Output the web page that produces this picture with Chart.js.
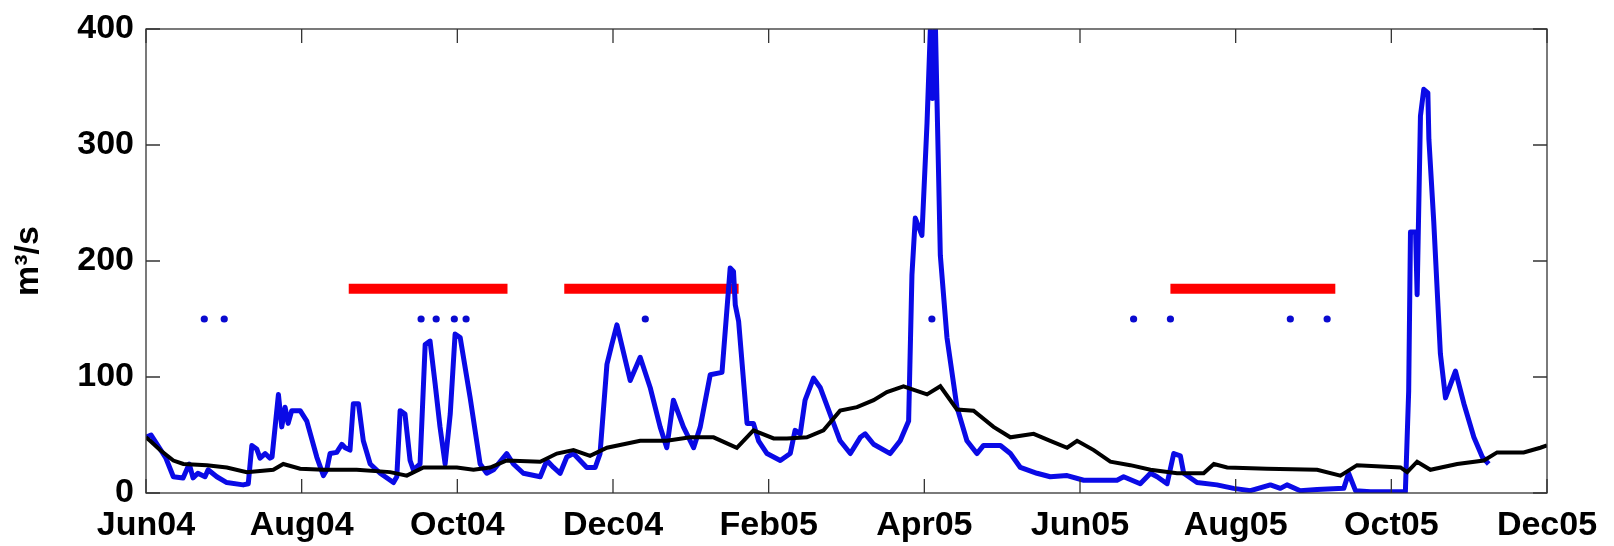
<!DOCTYPE html>
<html>
<head>
<meta charset="utf-8">
<title>Discharge</title>
<script src="https://cdn.jsdelivr.net/npm/chart.js@4.4.1/dist/chart.umd.min.js"></script>
<style>
    html, body { margin: 0; padding: 0; background: #fff; }
</style>
</head>
<body>
<canvas id="flowChart" width="1614" height="546"></canvas>
<script>
// x values are days counted from 1 Jun 2004, axis runs 0..548
var axisDays = 548;
var tickLabels = ["Jun04", "Aug04", "Oct04", "Dec04", "Feb05", "Apr05", "Jun05", "Aug05", "Oct05", "Dec05"];

// blue discharge line
var blueDays = [
    0, 2, 7.8, 10.7, 14.5, 16.9, 18.4, 20.3, 23.1, 24.3,
    27.7, 31.6, 38, 40, 41.4, 43.3, 44.6, 46.6, 48.5, 49.3,
    51.8, 53.1, 54.4, 55.6, 57, 60.3, 62.9, 66.8, 69.4, 70.7,
    72, 74.6, 76.6, 77.9, 79.8, 81.1, 83.1, 85, 87.7, 91.6,
    96.8, 98.1, 99.4, 101.3, 103.3, 104.6, 107.2, 109.2, 111.1, 113.1,
    115, 117, 119, 120.9, 122.9, 126.8, 130.7, 133.3, 135.9, 141.1,
    143.7, 147.6, 154.2, 156.8, 159.4, 162, 164.6, 167.2, 169.8, 172.4,
    175.7, 177.6, 180.3, 182.2, 184.2, 189.4, 193.3, 197.2, 201.1, 203.7,
    206.3, 210.2, 214.2, 216.8, 220.7, 225.3, 228.5, 229.8, 230.5, 231.8,
    235.1, 237.6, 239.6, 242.9, 248.1, 252, 253.9, 255.9, 257.8, 261.1,
    263.7, 267.6, 271.5, 275.5, 279.4, 281.3, 284.6, 291.1, 295, 298.3,
    299.6, 300.9, 303.5, 305.5, 306.8, 307.6, 308.8, 310.7, 313.3, 317.2,
    321.1, 325, 327.6, 334.2, 338.1, 342, 348.5, 353.7, 360.3, 366.8,
    379.8, 382.4, 388.9, 392.9, 395.5, 399.4, 402, 404.6, 405.9, 411.1,
    418.9, 425.4, 432, 439.8, 443.7, 446.3, 451.5, 458.1, 468.5, 470.4,
    473.1, 478.9, 492.6, 493.9, 494.6, 496.6, 497.2, 498.5, 499.8, 501.4,
    501.8, 503.7, 506.3, 508.3, 512.2, 515.5, 519.4, 522.7, 525.2
];
var blueFlow = [
    48, 50, 30, 14, 13, 25, 13, 17, 14, 20,
    14, 9, 7, 8, 41, 38, 30, 34, 30, 31,
    85, 57, 74, 60, 71, 71, 62, 31, 15, 20,
    34, 35, 42, 39, 37, 77, 77, 45, 25, 17,
    9, 14, 71, 68, 28, 20, 25, 128, 131, 94,
    57, 25, 68, 137, 134, 82, 25, 17, 20, 34,
    25, 17, 14, 28, 22, 17, 31, 34, 28, 22,
    22, 34, 111, 128, 145, 97, 117, 91, 57, 39,
    80, 57, 39, 57, 102, 104, 194, 191, 162, 148,
    60, 60, 45, 34, 28, 34, 54, 51, 80, 99,
    91, 68, 45, 34, 48, 51, 42, 34, 45, 62,
    188, 237, 222, 319, 400, 340, 400, 205, 134, 74,
    45, 34, 41, 41, 34, 22, 17, 14, 15, 11,
    11, 14, 8, 17, 14, 8, 34, 32, 17, 9,
    7, 4, 2, 7, 4, 7, 2, 3, 4, 17,
    2, 1, 1, 88, 225, 225, 171, 325, 348, 345,
    305, 234, 120, 82, 105, 77, 48, 31, 25
];

// black (smoothed) line
var blackDays = [
    0, 1.6, 5.5, 10.7, 14.6, 23.8, 31.6, 39.4, 49.8, 53.7,
    60.3, 69.4, 82.4, 95.5, 102, 108.5, 121.6, 128.1, 134.6, 141.1,
    154.2, 160.7, 167.2, 173.7, 180.3, 193.3, 203.7, 212.9, 222, 231.1,
    237.6, 245.5, 250.7, 258.5, 265, 271.5, 278.1, 284.6, 289.8, 296.3,
    305.5, 310.7, 317.2, 323.7, 331.5, 338.1, 347.2, 353.7, 360.3, 364.2,
    370.7, 377.2, 385, 392.9, 403.3, 413.7, 417.7, 422.9, 438.5, 458.1,
    467.2, 473.7, 490.7, 493.3, 497.2, 502.4, 512.9, 523.3, 528.5, 538.9, 545.4, 548
];
var blackFlow = [
    48, 45, 37, 28, 25, 24, 22, 18, 20, 25,
    21, 20, 20, 18, 15, 22, 22, 20, 22, 28,
    27, 34, 37, 32, 39, 45, 45, 48, 48, 39,
    54, 47, 47, 48, 54, 71, 74, 80, 87, 92,
    85, 92, 72, 71, 57, 48, 51, 45, 39, 45,
    37, 27, 24, 20, 17, 17, 25, 22, 21, 20,
    15, 24, 22, 18, 27, 20, 25, 28, 35, 35, 39, 41
];

// blue markers and red periods
var dotDays = [22.8, 30.6, 107.6, 113.5, 120.6, 125.2, 195.3, 307.4, 386.3, 400.7, 447.6, 462];
var dotLevel = 150;
var barStart = [79.3, 163.6, 400.7];
var barEnd = [141.4, 231.8, 465.2];
var barLevel = 176;

function toPoints(xs, ys) {
    var out = [];
    for (var i = 0; i < xs.length; i++) out.push({ x: xs[i], y: ys[i] });
    return out;
}

var datasets = [];
datasets.push({
    label: "smoothed",
    data: toPoints(blackDays, blackFlow),
    showLine: true,
    borderColor: "#000000",
    borderWidth: 4,
    pointRadius: 0,
    order: 0,
});
datasets.push({
    label: "discharge",
    data: toPoints(blueDays, blueFlow),
    showLine: true,
    borderColor: "#0a0ae6",
    borderWidth: 5,
    borderJoinStyle: "round",
    pointRadius: 0,
    order: 1,
});
datasets.push({
    label: "markers",
    data: dotDays.map(function (d) { return { x: d, y: dotLevel }; }),
    showLine: false,
    pointRadius: 3.6,
    pointBorderWidth: 0,
    pointBackgroundColor: "#0a0ad0",
    order: 2,
});
for (var b = 0; b < barStart.length; b++) {
    datasets.push({
        label: "period" + b,
        data: [{ x: barStart[b], y: barLevel }, { x: barEnd[b], y: barLevel }],
        showLine: true,
        borderColor: "#ff0000",
        borderWidth: 10,
        borderCapStyle: "butt",
        pointRadius: 0,
        order: 3,
    });
}

// matlab style box with inward ticks
var boxTicks = {
    id: "boxTicks",
    afterDatasetsDraw: function (chart) {
        var ctx = chart.ctx;
        var a = chart.chartArea;
        var xs = chart.scales.x;
        var ys = chart.scales.y;
        var len = 14;
        ctx.save();
        ctx.strokeStyle = "#333";
        ctx.lineWidth = 1.3;
        ctx.strokeRect(a.left, a.top, a.right - a.left, a.bottom - a.top);
        ctx.beginPath();
        xs.ticks.forEach(function (t) {
            var px = xs.getPixelForValue(t.value);
            ctx.moveTo(px, a.bottom);
            ctx.lineTo(px, a.bottom - len);
            ctx.moveTo(px, a.top);
            ctx.lineTo(px, a.top + len);
        });
        ys.ticks.forEach(function (t) {
            var py = ys.getPixelForValue(t.value);
            ctx.moveTo(a.left, py);
            ctx.lineTo(a.left + len, py);
            ctx.moveTo(a.right, py);
            ctx.lineTo(a.right - len, py);
        });
        ctx.stroke();
        ctx.restore();
    },
};

Chart.defaults.font.family = "'Liberation Sans', Arial, sans-serif";
Chart.defaults.color = "#000";

var ctx_flow = document.getElementById("flowChart");
var flowChart = new Chart(ctx_flow, {
    type: "scatter",
    data: { datasets: datasets },
    options: {
        responsive: false,
        animation: false,
        devicePixelRatio: 1,
        layout: { padding: { left: 0, top: 26, right: 67, bottom: 0 } },
        plugins: {
            legend: { display: false },
            tooltip: { enabled: false },
        },
        scales: {
            x: {
                type: "linear",
                min: 0,
                max: axisDays,
                grid: { display: false, drawTicks: false },
                border: { display: false },
                afterBuildTicks: function (scale) {
                    scale.ticks = tickLabels.map(function (l, i) {
                        return { value: (i * axisDays) / (tickLabels.length - 1) };
                    });
                },
                afterFit: function (scale) {
                    scale.height = 53;
                },
                ticks: {
                    autoSkip: false,
                    maxRotation: 0,
                    padding: 12,
                    font: { size: 34, weight: "bold" },
                    callback: function (value, index) {
                        return tickLabels[index];
                    },
                },
            },
            y: {
                min: 0,
                max: 400,
                grid: { display: false, drawTicks: false },
                border: { display: false },
                afterFit: function (scale) {
                    scale.width = 146;
                },
                ticks: {
                    stepSize: 100,
                    padding: 12,
                    font: { size: 34, weight: "bold", lineHeight: 1 },
                },
                title: {
                    display: true,
                    text: "m³/s",
                    padding: { top: 8, bottom: 0 },
                    font: { size: 34, weight: "bold" },
                },
            },
        },
    },
    plugins: [boxTicks],
});
</script>
</body>
</html>
